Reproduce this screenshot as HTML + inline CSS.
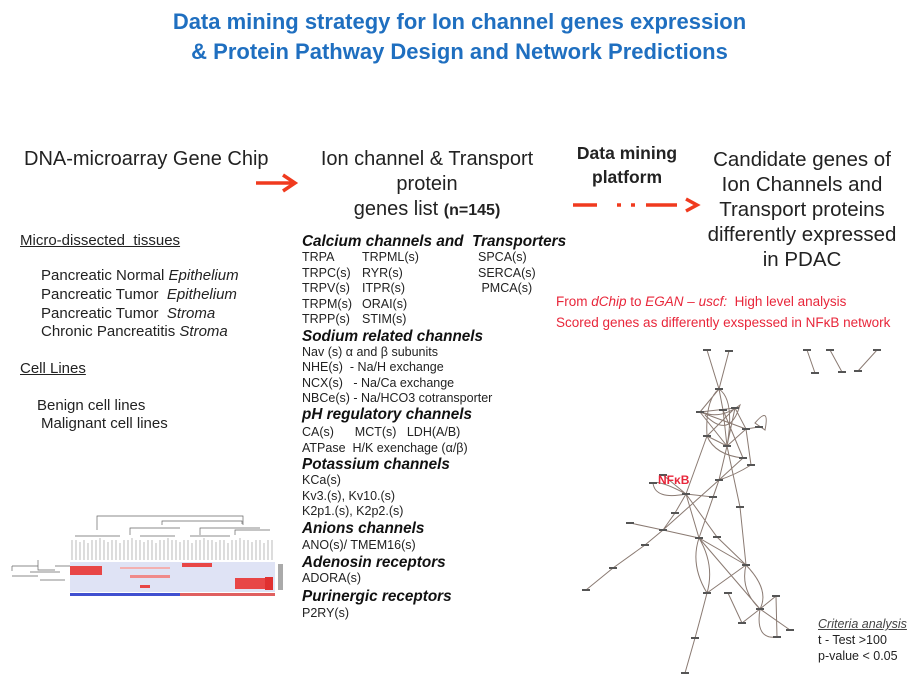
<!DOCTYPE html>
<html><head><meta charset="utf-8"><style>
body{margin:0;width:919px;height:700px;background:#fff;position:relative;overflow:hidden;font-family:"Liberation Sans",Arial,sans-serif;color:#222}
.a{position:absolute;white-space:nowrap}
.t{font-weight:bold;color:#1f6fc0;font-size:22px;width:919px;text-align:center;left:0}
.big{font-size:20px;text-align:center;line-height:25px}
.l{font-size:15px}
.s{font-size:12.5px}
.h{font-size:15.3px;font-weight:bold;font-style:italic;color:#111}
.r{color:#e8263a;font-size:13.5px}
</style></head><body>
<div class="a t" style="top:9px">Data mining strategy for Ion channel genes expression</div>
<div class="a t" style="top:39px">&amp; Protein Pathway Design and Network Predictions</div>

<div class="a big" style="left:24px;top:147px">DNA-microarray Gene Chip</div>
<div class="a big" style="left:307px;top:147px;width:240px">Ion channel &amp; Transport<br>protein<br>genes list <b style="font-size:16px">(n=145)</b></div>
<div class="a" style="left:562px;top:141px;width:130px;text-align:center;font-weight:bold;font-size:17.5px;line-height:24px">Data mining<br>platform</div>
<div class="a big" style="left:697px;top:147px;width:210px;font-size:20.5px">Candidate genes of<br>Ion Channels and<br>Transport proteins<br>differently expressed<br>in PDAC</div>

<svg class="a" style="left:0;top:0" width="919" height="700">
<g stroke="#f03a1e" stroke-width="3.5" fill="none">
<line x1="256" y1="183" x2="294" y2="183"/><polyline points="283,175 295,183 283,191"/>
<line x1="573" y1="205" x2="597" y2="205"/><line x1="617" y1="205" x2="621" y2="205"/><line x1="631" y1="205" x2="635" y2="205"/><line x1="646" y1="205" x2="677" y2="205"/><polyline points="686,199 697,205 686,211"/>
</g>
<g stroke="#8a7a72" stroke-width="1" fill="none">
<path d="M707 350L719 389L729 351M719 389L700 412M719 389L723 410M719 389Q705 400 707 436M719 389Q735 400 727 446M700 412L735 408L746 429L759 427M700 412L727 446L746 429M723 410L743 458M735 408L707 436M723 410L727 446M700 412L746 429M707 436L727 446L735 408M707 436Q715 455 743 458M746 429L751 465M707 436L686 494M727 446L719 480M727 446L740 507M743 458L719 480M751 465Q735 475 719 480M686 494L663 475M686 494Q660 480 653 483Q655 500 686 494M686 494L675 513L663 530M686 494L713 497L719 480M686 494L699 538M686 494L717 537L746 565M719 480L663 530M719 480L699 538M630 523L663 530L645 545L613 568L586 590M663 530L699 538L746 565M740 507L746 565M699 538Q690 565 707 593M699 538Q715 565 707 593M746 565L707 593M699 538L760 609M746 565Q740 590 760 609M746 565Q770 590 760 609M728 593L742 623M760 609L742 623M760 609L776 596M776 596L777 637M760 609L790 630M760 609Q755 640 777 637M707 593Q700 620 695 638L685 673M807 350L815 373M830 350L842 372M877 350L858 371M702 412Q720 420 740 405Q730 440 705 415M755 423Q770 405 765 430Z"/>
</g>
<g fill="#555">
<rect x="703" y="349" width="8" height="2"/><rect x="725" y="350" width="8" height="2"/><rect x="715" y="388" width="8" height="2"/><rect x="696" y="411" width="8" height="2"/><rect x="719" y="409" width="8" height="2"/><rect x="731" y="407" width="8" height="2"/><rect x="742" y="428" width="8" height="2"/><rect x="755" y="426" width="8" height="2"/><rect x="703" y="435" width="8" height="2"/><rect x="723" y="445" width="8" height="2"/><rect x="739" y="457" width="8" height="2"/><rect x="747" y="464" width="8" height="2"/><rect x="715" y="479" width="8" height="2"/><rect x="709" y="496" width="8" height="2"/><rect x="736" y="506" width="8" height="2"/><rect x="682" y="493" width="8" height="2"/><rect x="659" y="474" width="8" height="2"/><rect x="649" y="482" width="8" height="2"/><rect x="671" y="512" width="8" height="2"/><rect x="659" y="529" width="8" height="2"/><rect x="626" y="522" width="8" height="2"/><rect x="695" y="537" width="8" height="2"/><rect x="713" y="536" width="8" height="2"/><rect x="641" y="544" width="8" height="2"/><rect x="609" y="567" width="8" height="2"/><rect x="582" y="589" width="8" height="2"/><rect x="742" y="564" width="8" height="2"/><rect x="703" y="592" width="8" height="2"/><rect x="724" y="592" width="8" height="2"/><rect x="756" y="608" width="8" height="2"/><rect x="772" y="595" width="8" height="2"/><rect x="738" y="622" width="8" height="2"/><rect x="773" y="636" width="8" height="2"/><rect x="786" y="629" width="8" height="2"/><rect x="691" y="637" width="8" height="2"/><rect x="681" y="672" width="8" height="2"/><rect x="803" y="349" width="8" height="2"/><rect x="811" y="372" width="8" height="2"/><rect x="826" y="349" width="8" height="2"/><rect x="838" y="371" width="8" height="2"/><rect x="873" y="349" width="8" height="2"/><rect x="854" y="370" width="8" height="2"/>
</g>
<text x="658" y="484" fill="#e8263a" font-size="12" font-weight="bold" font-family="Liberation Sans,sans-serif">NFκB</text>
<g stroke="#666" stroke-width="0.7" fill="none">
<path d="M97 530V516H243V525M162 525V521H242V524M130 535V528H180M200 535V528H260M75 536H120M140 536H175M190 536H230M235 535V530H270M12 566V571M12 566H38M12 576H38M38 560V570H55M55 566H70M30 572H60M40 580H65"/>
</g>
<g stroke="#aaa" stroke-width="0.8">
<path d="M72 540V560M76 540V560M80 542V560M84 540V560M88 543V560M92 540V560M96 540V560M100 538V560M104 540V560M108 542V560M112 540V560M116 540V560M120 543V560M124 540V560M128 540V560M132 538V560M136 540V560M140 540V560M144 542V560M148 540V560M152 540V560M156 543V560M160 540V560M164 540V560M168 538V560M172 540V560M176 540V560M180 542V560M184 540V560M188 540V560M192 543V560M196 540V560M200 540V560M204 538V560M208 540V560M212 540V560M216 542V560M220 540V560M224 540V560M228 543V560M232 540V560M236 540V560M240 538V560M244 540V560M248 540V560M252 542V560M256 540V560M260 540V560M264 543V560M268 540V560M272 540V560"/>
</g>
<rect x="70" y="562" width="205" height="30" fill="#dfe3f5"/>
<rect x="70" y="566" width="32" height="9" fill="#e84646"/><rect x="182" y="563" width="30" height="4" fill="#e84646"/><rect x="235" y="578" width="30" height="11" fill="#e84646"/><rect x="265" y="577" width="8" height="13" fill="#e03030"/><rect x="130" y="575" width="40" height="3" fill="#f08a8a"/><rect x="140" y="585" width="10" height="3" fill="#e84646"/><rect x="120" y="567" width="50" height="2" fill="#f3b0b0"/>
<rect x="70" y="593" width="110" height="3" fill="#4050d0"/><rect x="180" y="593" width="95" height="3" fill="#e06060"/>
<rect x="278" y="564" width="5" height="26" fill="#aaa"/>
</svg>

<div class="a l" style="left:20px;top:232px;text-decoration:underline">Micro-dissected&nbsp; tissues</div>
<div class="a l" style="left:41px;top:267px">Pancreatic Normal <i>Epithelium</i></div>
<div class="a l" style="left:41px;top:286px">Pancreatic Tumor&nbsp; <i>Epithelium</i></div>
<div class="a l" style="left:41px;top:305px">Pancreatic Tumor&nbsp; <i>Stroma</i></div>
<div class="a l" style="left:41px;top:323px">Chronic Pancreatitis <i>Stroma</i></div>
<div class="a l" style="left:20px;top:360px;text-decoration:underline">Cell Lines</div>
<div class="a l" style="left:37px;top:397px">Benign cell lines</div>
<div class="a l" style="left:41px;top:415px">Malignant cell lines</div>

<div class="a h" style="left:302px;top:233px">Calcium channels and&nbsp; Transporters</div>
<div class="a s" style="left:302px;top:250px;line-height:15.6px">TRPA<br>TRPC(s)<br>TRPV(s)<br>TRPM(s)<br>TRPP(s)</div>
<div class="a s" style="left:362px;top:250px;line-height:15.6px">TRPML(s)<br>RYR(s)<br>ITPR(s)<br>ORAI(s)<br>STIM(s)</div>
<div class="a s" style="left:478px;top:250px;line-height:15.6px">SPCA(s)<br>SERCA(s)<br>&nbsp;PMCA(s)</div>
<div class="a h" style="left:302px;top:328px">Sodium related channels</div>
<div class="a s" style="left:302px;top:345px;line-height:15.3px">Nav (s) α and β subunits<br>NHE(s)&nbsp; - Na/H exchange<br>NCX(s)&nbsp;&nbsp; - Na/Ca exchange<br>NBCe(s) - Na/HCO3 cotransporter</div>
<div class="a h" style="left:302px;top:406px">pH regulatory channels</div>
<div class="a s" style="left:302px;top:425px;line-height:15.5px">CA(s)&nbsp;&nbsp;&nbsp;&nbsp;&nbsp; MCT(s)&nbsp;&nbsp; LDH(A/B)<br>ATPase&nbsp; H/K exenchage (α/β)</div>
<div class="a h" style="left:302px;top:456px">Potassium channels</div>
<div class="a s" style="left:302px;top:473px;line-height:15.6px">KCa(s)<br>Kv3.(s), Kv10.(s)<br>K2p1.(s), K2p2.(s)</div>
<div class="a h" style="left:302px;top:520px">Anions channels</div>
<div class="a s" style="left:302px;top:538px">ANO(s)/ TMEM16(s)</div>
<div class="a h" style="left:302px;top:554px">Adenosin receptors</div>
<div class="a s" style="left:302px;top:571px">ADORA(s)</div>
<div class="a h" style="left:302px;top:588px">Purinergic receptors</div>
<div class="a s" style="left:302px;top:606px">P2RY(s)</div>

<div class="a r" style="left:556px;top:294px">From <i>dChip</i> to <i>EGAN – uscf:</i>&nbsp; High level analysis</div>
<div class="a r" style="left:556px;top:315px">Scored genes as differently exspessed in NFκB network</div>

<div class="a" style="left:818px;top:616px;font-size:12.5px;line-height:16px"><i style="text-decoration:underline;color:#444">Criteria analysis</i><br>t - Test &gt;100<br>p-value &lt; 0.05</div>
</body></html>
